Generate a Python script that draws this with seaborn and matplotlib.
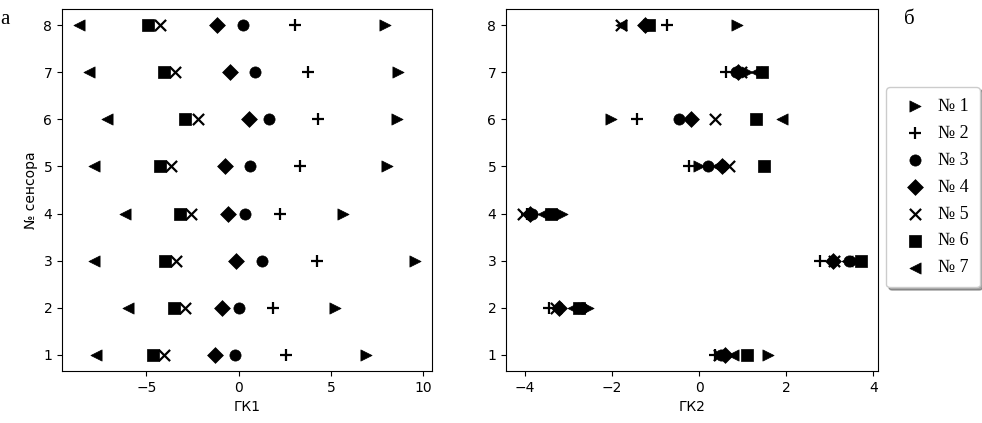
import numpy as np
import pandas as pd
import matplotlib
matplotlib.use("Agg")
import matplotlib.pyplot as plt
import seaborn as sns

# номера сенсоров
sensors = [1, 2, 3, 4, 5, 6, 7, 8]
series_labels = ["№ 1", "№ 2", "№ 3", "№ 4", "№ 5", "№ 6", "№ 7"]
series_markers = [">", "+", "o", "D", "x", "s", "<"]

# ГК1 по сенсорам 1..8
gk1_s1 = [6.9, 5.21, 9.55, 5.64, 8.02, 8.56, 8.61, 7.89]
gk1_s2 = [2.54, 1.87, 4.25, 2.25, 3.3, 4.31, 3.75, 3.04]
gk1_s3 = [-0.18, 0.0, 1.28, 0.32, 0.63, 1.64, 0.9, 0.23]
gk1_s4 = [-1.3, -0.9, -0.13, -0.58, -0.72, 0.56, -0.45, -1.17]
gk1_s5 = [-4.04, -2.92, -3.37, -2.56, -3.64, -2.2, -3.46, -4.27]
gk1_s6 = [-4.63, -3.51, -4.0, -3.15, -4.27, -2.92, -4.05, -4.9]
gk1_s7 = [-7.73, -5.98, -7.82, -6.16, -7.82, -7.12, -8.09, -8.65]

# ГК2 по сенсорам 1..8
gk2_s1 = [1.57, -2.55, 3.6, -3.16, 0.0, -2.02, 1.1, 0.86]
gk2_s2 = [0.36, -3.46, 2.78, -3.95, -0.23, -1.42, 0.62, -0.75]
gk2_s3 = [0.5, -2.7, 3.45, -3.85, 0.21, -0.46, 0.85, -1.2]
gk2_s4 = [0.59, -3.22, 3.07, -3.89, 0.52, -0.18, 0.9, -1.25]
gk2_s5 = [0.45, -3.3, 3.1, -4.05, 0.69, 0.36, 0.95, -1.8]
gk2_s6 = [1.1, -2.75, 3.72, -3.41, 1.5, 1.3, 1.45, -1.15]
gk2_s7 = [0.78, -2.9, 3.4, -3.58, 0.4, 1.9, 1.3, -1.8]

gk1 = [gk1_s1, gk1_s2, gk1_s3, gk1_s4, gk1_s5, gk1_s6, gk1_s7]
gk2 = [gk2_s1, gk2_s2, gk2_s3, gk2_s4, gk2_s5, gk2_s6, gk2_s7]

fig = plt.figure(figsize=(9.82, 4.23), dpi=100)
ax1 = fig.add_axes([62 / 982, 1 - 371 / 423, 370 / 982, 362 / 423])
ax2 = fig.add_axes([506 / 982, 1 - 371 / 423, 372 / 982, 362 / 423])

for ax, data in [(ax1, gk1), (ax2, gk2)]:
    for vals, m, lab in zip(data, series_markers, series_labels):
        df = pd.DataFrame({"x": vals, "y": sensors})
        if m in ["+", "x"]:
            sns.scatterplot(data=df, x="x", y="y", marker=m, color="black",
                            s=65, linewidth=1.6, ax=ax, label=lab)
        else:
            sns.scatterplot(data=df, x="x", y="y", marker=m, color="black",
                            edgecolor="black", s=65, linewidth=0.5, ax=ax, label=lab)
    if ax.get_legend() is not None:
        ax.get_legend().remove()
    ax.set_yticks(sensors)
    ax.set_ylabel("")

ax1.set_xlabel("ГК1")
ax2.set_xlabel("ГК2")
ax1.set_ylabel("№ сенсора")
ax1.set_xticks([-5, 0, 5, 10])
ax2.set_xticks([-4, -2, 0, 2, 4])

handles, labels = ax1.get_legend_handles_labels()
fig.legend(handles, labels, loc="upper left",
           bbox_to_anchor=(886 / 982, 1 - 87 / 423), borderaxespad=0,
           shadow=True, prop={"family": "Liberation Serif", "size": 13},
           handletextpad=0.3, borderpad=0.6, labelspacing=0.55)

fig.text(0.0, 1 - 20 / 423, "а", family="Liberation Serif", fontsize=15, va="center")
fig.text(904 / 982, 1 - 20 / 423, "б", family="Liberation Serif", fontsize=15, va="center")

fig.savefig("out.png", dpi=100)
